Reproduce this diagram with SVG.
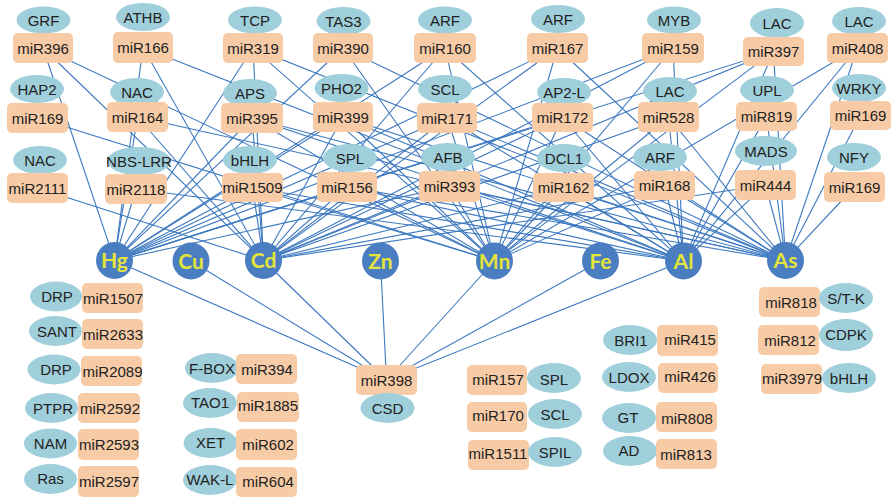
<svg xmlns="http://www.w3.org/2000/svg" width="894" height="498" viewBox="0 0 894 498">
<style>
.p{fill:#9FCFDB}
.m{fill:#F7CBA6}
.t{font-family:"Liberation Sans",Arial,sans-serif;font-size:15px;fill:#222;text-anchor:middle}
.mc{fill:#4A7EC1}
.mt{font-family:Lato,"Open Sans",sans-serif;font-weight:bold;font-size:21px;fill:#E4E43A;text-anchor:middle}
#connectors line{stroke:#3C78C0;stroke-width:1.1}
</style>
<rect width="894" height="498" fill="#fff"/>
<g id="connectors">
<!-- Hg -->
<line x1="43" y1="48" x2="114.5" y2="260.5"/>
<line x1="143" y1="47.5" x2="114.5" y2="260.5"/>
<line x1="137.5" y1="117" x2="114.5" y2="260.5"/>
<line x1="136" y1="189" x2="114.5" y2="260.5"/>
<line x1="253" y1="48" x2="114.5" y2="260.5"/>
<line x1="343" y1="48" x2="114.5" y2="260.5"/>
<line x1="445" y1="48" x2="114.5" y2="260.5"/>
<line x1="557.5" y1="48" x2="114.5" y2="260.5"/>
<line x1="673" y1="48" x2="114.5" y2="260.5"/>
<line x1="773.5" y1="51.5" x2="114.5" y2="260.5"/>
<line x1="252" y1="118" x2="114.5" y2="260.5"/>
<line x1="343" y1="117" x2="114.5" y2="260.5"/>
<line x1="252.5" y1="187.5" x2="114.5" y2="260.5"/>
<line x1="347" y1="187" x2="114.5" y2="260.5"/>
<line x1="447" y1="118" x2="114.5" y2="260.5"/>
<line x1="449.5" y1="186.5" x2="114.5" y2="260.5"/>
<line x1="562.5" y1="117.5" x2="114.5" y2="260.5"/>
<!-- Cd -->
<line x1="43" y1="48" x2="263.5" y2="260.5"/>
<line x1="143" y1="47.5" x2="263.5" y2="260.5"/>
<line x1="137.5" y1="117" x2="263.5" y2="260.5"/>
<line x1="37.5" y1="188" x2="263.5" y2="260.5"/>
<line x1="253" y1="48" x2="263.5" y2="260.5"/>
<line x1="445" y1="48" x2="263.5" y2="260.5"/>
<line x1="557.5" y1="48" x2="263.5" y2="260.5"/>
<line x1="673" y1="48" x2="263.5" y2="260.5"/>
<line x1="773.5" y1="51.5" x2="263.5" y2="260.5"/>
<line x1="252.5" y1="187.5" x2="263.5" y2="260.5"/>
<line x1="252" y1="118" x2="263.5" y2="260.5"/>
<line x1="343" y1="117" x2="263.5" y2="260.5"/>
<line x1="347" y1="187" x2="263.5" y2="260.5"/>
<line x1="447" y1="118" x2="263.5" y2="260.5"/>
<line x1="449.5" y1="186.5" x2="263.5" y2="260.5"/>
<line x1="562.5" y1="117.5" x2="263.5" y2="260.5"/>
<line x1="563.5" y1="187.5" x2="263.5" y2="260.5"/>
<line x1="668.5" y1="117" x2="263.5" y2="260.5"/>
<line x1="664.5" y1="185.5" x2="263.5" y2="260.5"/>
<line x1="765.5" y1="185" x2="263.5" y2="260.5"/>
<!-- Mn -->
<line x1="43" y1="48" x2="494.5" y2="261"/>
<line x1="37.5" y1="118" x2="494.5" y2="261"/>
<line x1="253" y1="48" x2="494.5" y2="261"/>
<line x1="343" y1="48" x2="494.5" y2="261"/>
<line x1="445" y1="48" x2="494.5" y2="261"/>
<line x1="557.5" y1="48" x2="494.5" y2="261"/>
<line x1="673" y1="48" x2="494.5" y2="261"/>
<line x1="773.5" y1="51.5" x2="494.5" y2="261"/>
<line x1="857.5" y1="48" x2="494.5" y2="261"/>
<line x1="252" y1="118" x2="494.5" y2="261"/>
<line x1="343" y1="117" x2="494.5" y2="261"/>
<line x1="252.5" y1="187.5" x2="494.5" y2="261"/>
<line x1="347" y1="187" x2="494.5" y2="261"/>
<line x1="447" y1="118" x2="494.5" y2="261"/>
<line x1="449.5" y1="186.5" x2="494.5" y2="261"/>
<line x1="562.5" y1="117.5" x2="494.5" y2="261"/>
<line x1="563.5" y1="187.5" x2="494.5" y2="261"/>
<line x1="668.5" y1="117" x2="494.5" y2="261"/>
<line x1="664.5" y1="185.5" x2="494.5" y2="261"/>
<!-- Al -->
<line x1="143" y1="47.5" x2="683.5" y2="261"/>
<line x1="136" y1="189" x2="683.5" y2="261"/>
<line x1="445" y1="48" x2="683.5" y2="261"/>
<line x1="673" y1="48" x2="683.5" y2="261"/>
<line x1="773.5" y1="51.5" x2="683.5" y2="261"/>
<line x1="857.5" y1="48" x2="683.5" y2="261"/>
<line x1="252" y1="118" x2="683.5" y2="261"/>
<line x1="343" y1="117" x2="683.5" y2="261"/>
<line x1="252.5" y1="187.5" x2="683.5" y2="261"/>
<line x1="347" y1="187" x2="683.5" y2="261"/>
<line x1="447" y1="118" x2="683.5" y2="261"/>
<line x1="449.5" y1="186.5" x2="683.5" y2="261"/>
<line x1="562.5" y1="117.5" x2="683.5" y2="261"/>
<line x1="563.5" y1="187.5" x2="683.5" y2="261"/>
<line x1="668.5" y1="117" x2="683.5" y2="261"/>
<line x1="664.5" y1="185.5" x2="683.5" y2="261"/>
<line x1="766.5" y1="116.5" x2="683.5" y2="261"/>
<line x1="765.5" y1="185" x2="683.5" y2="261"/>
<!-- As -->
<line x1="253" y1="48" x2="785.5" y2="260.5"/>
<line x1="343" y1="48" x2="785.5" y2="260.5"/>
<line x1="557.5" y1="48" x2="785.5" y2="260.5"/>
<line x1="137.5" y1="117" x2="785.5" y2="260.5"/>
<line x1="773.5" y1="51.5" x2="785.5" y2="260.5"/>
<line x1="857.5" y1="48" x2="785.5" y2="260.5"/>
<line x1="860.5" y1="115.5" x2="785.5" y2="260.5"/>
<line x1="854.5" y1="187" x2="785.5" y2="260.5"/>
<line x1="766.5" y1="116.5" x2="785.5" y2="260.5"/>
<line x1="765.5" y1="185" x2="785.5" y2="260.5"/>
<line x1="252" y1="118" x2="785.5" y2="260.5"/>
<line x1="343" y1="117" x2="785.5" y2="260.5"/>
<line x1="447" y1="118" x2="785.5" y2="260.5"/>
<line x1="449.5" y1="186.5" x2="785.5" y2="260.5"/>
<line x1="563.5" y1="187.5" x2="785.5" y2="260.5"/>
<line x1="664.5" y1="185.5" x2="785.5" y2="260.5"/>
<line x1="668.5" y1="117" x2="785.5" y2="260.5"/>
<line x1="562.5" y1="117.5" x2="785.5" y2="260.5"/>
<line x1="347" y1="187" x2="785.5" y2="260.5"/>
<!-- miR398 -->
<line x1="386.5" y1="380" x2="114.5" y2="260.5"/>
<line x1="386.5" y1="380" x2="191" y2="261"/>
<line x1="386.5" y1="380" x2="263.5" y2="260.5"/>
<line x1="386.5" y1="380" x2="380.5" y2="261"/>
<line x1="386.5" y1="380" x2="494.5" y2="261"/>
<line x1="386.5" y1="380" x2="600.5" y2="261"/>
<line x1="386.5" y1="380" x2="683.5" y2="261"/>
</g>

<!-- Row 1 -->
<g id="GRF"><ellipse class="p" cx="43.5" cy="20" rx="27" ry="13.5"/><text class="t" x="43.5" y="25.5">GRF</text></g>
<g id="miR396"><rect class="m" x="13" y="33" width="60" height="30" rx="5"/><text class="t" x="43" y="53.5">miR396</text></g>
<g id="ATHB"><ellipse class="p" cx="143" cy="17" rx="27" ry="14"/><text class="t" x="143" y="22.5">ATHB</text></g>
<g id="miR166"><rect class="m" x="113" y="32" width="60" height="31" rx="5"/><text class="t" x="143" y="53">miR166</text></g>
<g id="TCP"><ellipse class="p" cx="255" cy="20" rx="27" ry="13.5"/><text class="t" x="255" y="25.5">TCP</text></g>
<g id="miR319"><rect class="m" x="223" y="33" width="60" height="30" rx="5"/><text class="t" x="253" y="53.5">miR319</text></g>
<g id="TAS3"><ellipse class="p" cx="343.5" cy="21" rx="27" ry="14"/><text class="t" x="343.5" y="26.5">TAS3</text></g>
<g id="miR390"><rect class="m" x="313" y="33" width="60" height="30" rx="5"/><text class="t" x="343" y="53.5">miR390</text></g>
<g id="ARF-160"><ellipse class="p" cx="445" cy="20" rx="27" ry="13.5"/><text class="t" x="445" y="25.5">ARF</text></g>
<g id="miR160"><rect class="m" x="414" y="33" width="62" height="30" rx="5"/><text class="t" x="445" y="53.5">miR160</text></g>
<g id="ARF-167"><ellipse class="p" cx="558" cy="19" rx="27" ry="14"/><text class="t" x="558" y="24.5">ARF</text></g>
<g id="miR167"><rect class="m" x="527" y="33" width="61" height="30" rx="5"/><text class="t" x="557.5" y="53.5">miR167</text></g>
<g id="MYB"><ellipse class="p" cx="674" cy="20" rx="27" ry="13.5"/><text class="t" x="674" y="25.5">MYB</text></g>
<g id="miR159"><rect class="m" x="642" y="33" width="62" height="30" rx="5"/><text class="t" x="673" y="53.5">miR159</text></g>
<g id="LAC-397"><ellipse class="p" cx="777" cy="23" rx="27" ry="15"/><text class="t" x="777" y="28.5">LAC</text></g>
<g id="miR397"><rect class="m" x="743" y="37" width="61" height="29" rx="5"/><text class="t" x="773.5" y="57">miR397</text></g>
<g id="LAC-408"><ellipse class="p" cx="859" cy="21" rx="27" ry="14"/><text class="t" x="859" y="26.5">LAC</text></g>
<g id="miR408"><rect class="m" x="827" y="33" width="61" height="30" rx="5"/><text class="t" x="857.5" y="53.5">miR408</text></g>

<!-- Row 2 -->
<g id="HAP2"><ellipse class="p" cx="37" cy="89" rx="27" ry="14"/><text class="t" x="37" y="94.5">HAP2</text></g>
<g id="miR169-HAP2"><rect class="m" x="7" y="103" width="61" height="30" rx="5"/><text class="t" x="37.5" y="123.5">miR169</text></g>
<g id="NAC-164"><ellipse class="p" cx="137" cy="92" rx="27" ry="14"/><text class="t" x="137" y="97.5">NAC</text></g>
<g id="miR164"><rect class="m" x="107" y="102" width="61" height="30" rx="5"/><text class="t" x="137.5" y="122.5">miR164</text></g>
<g id="APS"><ellipse class="p" cx="250" cy="93" rx="27" ry="14"/><text class="t" x="250" y="98.5">APS</text></g>
<g id="miR395"><rect class="m" x="221" y="103" width="62" height="30" rx="5"/><text class="t" x="252" y="123.5">miR395</text></g>
<g id="PHO2"><ellipse class="p" cx="341.5" cy="88" rx="27" ry="14"/><text class="t" x="341.5" y="93.5">PHO2</text></g>
<g id="miR399"><rect class="m" x="313" y="102" width="60" height="30" rx="5"/><text class="t" x="343" y="122.5">miR399</text></g>
<g id="SCL-171"><ellipse class="p" cx="445" cy="89" rx="27" ry="14"/><text class="t" x="445" y="94.5">SCL</text></g>
<g id="miR171"><rect class="m" x="417" y="103" width="60" height="30" rx="5"/><text class="t" x="447" y="123.5">miR171</text></g>
<g id="AP2-L"><ellipse class="p" cx="564" cy="92" rx="27" ry="14"/><text class="t" x="564" y="97.5">AP2-L</text></g>
<g id="miR172"><rect class="m" x="532" y="103" width="61" height="29" rx="5"/><text class="t" x="562.5" y="123">miR172</text></g>
<g id="LAC-528"><ellipse class="p" cx="670" cy="91" rx="27" ry="14"/><text class="t" x="670" y="96.5">LAC</text></g>
<g id="miR528"><rect class="m" x="638" y="102" width="61" height="30" rx="5"/><text class="t" x="668.5" y="122.5">miR528</text></g>
<g id="UPL"><ellipse class="p" cx="767" cy="90" rx="27" ry="14"/><text class="t" x="767" y="95.5">UPL</text></g>
<g id="miR819"><rect class="m" x="736" y="102" width="61" height="29" rx="5"/><text class="t" x="766.5" y="122">miR819</text></g>
<g id="WRKY"><ellipse class="p" cx="859" cy="88" rx="27" ry="14"/><text class="t" x="859" y="93.5">WRKY</text></g>
<g id="miR169-WRKY"><rect class="m" x="830" y="101" width="61" height="29" rx="5"/><text class="t" x="860.5" y="121">miR169</text></g>

<!-- Row 3 -->
<g id="NAC-2111"><ellipse class="p" cx="40" cy="160" rx="27" ry="14"/><text class="t" x="40" y="165.5">NAC</text></g>
<g id="miR2111"><rect class="m" x="7" y="173" width="61" height="30" rx="5"/><text class="t" x="37.5" y="193.5">miR2111</text></g>
<g id="NBS-LRR"><ellipse class="p" cx="139" cy="161" rx="32" ry="14"/><text class="t" x="139" y="166.5">NBS-LRR</text></g>
<g id="miR2118"><rect class="m" x="105" y="174" width="62" height="30" rx="5"/><text class="t" x="136" y="194.5">miR2118</text></g>
<g id="bHLH-1509"><ellipse class="p" cx="250" cy="160" rx="27" ry="14"/><text class="t" x="250" y="165.5">bHLH</text></g>
<g id="miR1509"><rect class="m" x="222" y="173" width="61" height="29" rx="5"/><text class="t" x="252.5" y="193">miR1509</text></g>
<g id="SPL-156"><ellipse class="p" cx="350" cy="158" rx="27" ry="14"/><text class="t" x="350" y="163.5">SPL</text></g>
<g id="miR156"><rect class="m" x="317" y="172" width="60" height="30" rx="5"/><text class="t" x="347" y="192.5">miR156</text></g>
<g id="AFB"><ellipse class="p" cx="448" cy="157" rx="27" ry="14"/><text class="t" x="448" y="162.5">AFB</text></g>
<g id="miR393"><rect class="m" x="419" y="171" width="61" height="31" rx="5"/><text class="t" x="449.5" y="191.5">miR393</text></g>
<g id="DCL1"><ellipse class="p" cx="564" cy="158" rx="27" ry="14"/><text class="t" x="564" y="163.5">DCL1</text></g>
<g id="miR162"><rect class="m" x="533" y="173" width="61" height="29" rx="5"/><text class="t" x="563.5" y="193">miR162</text></g>
<g id="ARF-168"><ellipse class="p" cx="660" cy="157" rx="27" ry="14"/><text class="t" x="660" y="162.5">ARF</text></g>
<g id="miR168"><rect class="m" x="634" y="171" width="61" height="29" rx="5"/><text class="t" x="664.5" y="191">miR168</text></g>
<g id="MADS"><ellipse class="p" cx="766" cy="151" rx="31" ry="15"/><text class="t" x="766" y="156.5">MADS</text></g>
<g id="miR444"><rect class="m" x="735" y="170" width="61" height="30" rx="5"/><text class="t" x="765.5" y="190.5">miR444</text></g>
<g id="NFY"><ellipse class="p" cx="854" cy="157" rx="27" ry="14"/><text class="t" x="854" y="162.5">NFY</text></g>
<g id="miR169-NFY"><rect class="m" x="824" y="172" width="61" height="30" rx="5"/><text class="t" x="854.5" y="192.5">miR169</text></g>

<!-- Metals -->
<g id="Hg"><circle class="mc" cx="114.5" cy="260.5" r="18.5"/><text class="mt" x="114.5" y="268">Hg</text></g>
<g id="Cu"><circle class="mc" cx="191" cy="261" r="18.5"/><text class="mt" x="191" y="268.5">Cu</text></g>
<g id="Cd"><circle class="mc" cx="263.5" cy="260.5" r="18.5"/><text class="mt" x="263.5" y="268">Cd</text></g>
<g id="Zn"><circle class="mc" cx="380.5" cy="261" r="18.5"/><text class="mt" x="380.5" y="268.5">Zn</text></g>
<g id="Mn"><circle class="mc" cx="494.5" cy="261" r="18.5"/><text class="mt" x="494.5" y="268.5">Mn</text></g>
<g id="Fe"><circle class="mc" cx="600.5" cy="261" r="18.5"/><text class="mt" x="600.5" y="268.5">Fe</text></g>
<g id="Al"><circle class="mc" cx="683.5" cy="261" r="18.5"/><text class="mt" x="683.5" y="268.5">Al</text></g>
<g id="As"><circle class="mc" cx="785.5" cy="260.5" r="18.5"/><text class="mt" x="785.5" y="268">As</text></g>

<!-- Bottom left -->
<g id="DRP-1507"><ellipse class="p" cx="56" cy="296.5" rx="26" ry="15"/><text class="t" x="57" y="302">DRP</text></g>
<g id="miR1507"><rect class="m" x="82" y="283" width="61" height="30" rx="5"/><text class="t" x="113" y="303.5">miR1507</text></g>
<g id="SANT"><ellipse class="p" cx="55.5" cy="331" rx="26.5" ry="15"/><text class="t" x="57" y="336.5">SANT</text></g>
<g id="miR2633"><rect class="m" x="82" y="319" width="61" height="30" rx="5"/><text class="t" x="113" y="340">miR2633</text></g>
<g id="DRP-2089"><ellipse class="p" cx="54" cy="369.5" rx="26.5" ry="15"/><text class="t" x="56" y="375">DRP</text></g>
<g id="miR2089"><rect class="m" x="81" y="356" width="61" height="30" rx="5"/><text class="t" x="112.5" y="377">miR2089</text></g>
<g id="PTPR"><ellipse class="p" cx="51.5" cy="408" rx="26.5" ry="15"/><text class="t" x="53" y="413.5">PTPR</text></g>
<g id="miR2592"><rect class="m" x="78" y="393" width="62" height="30" rx="5"/><text class="t" x="110" y="414">miR2592</text></g>
<g id="NAM"><ellipse class="p" cx="50.5" cy="443.5" rx="26.5" ry="15"/><text class="t" x="50.5" y="449">NAM</text></g>
<g id="miR2593"><rect class="m" x="78" y="429" width="61" height="31" rx="5"/><text class="t" x="109" y="450">miR2593</text></g>
<g id="Ras"><ellipse class="p" cx="50.5" cy="479" rx="26.5" ry="15"/><text class="t" x="50.5" y="484">Ras</text></g>
<g id="miR2597"><rect class="m" x="78" y="466" width="61" height="31" rx="5"/><text class="t" x="109" y="486.5">miR2597</text></g>

<!-- Bottom middle -->
<g id="F-BOX"><ellipse class="p" cx="212" cy="368" rx="27" ry="15"/><text class="t" x="212" y="373.5">F-BOX</text></g>
<g id="miR394"><rect class="m" x="236" y="354" width="61" height="30" rx="5"/><text class="t" x="267" y="374.5">miR394</text></g>
<g id="TAO1"><ellipse class="p" cx="210" cy="403" rx="27" ry="15"/><text class="t" x="210" y="407.5">TAO1</text></g>
<g id="miR1885"><rect class="m" x="237" y="392" width="62" height="30" rx="5"/><text class="t" x="268" y="411">miR1885</text></g>
<g id="XET"><ellipse class="p" cx="210.5" cy="443" rx="27" ry="15"/><text class="t" x="210.5" y="447.5">XET</text></g>
<g id="miR602"><rect class="m" x="236" y="429" width="61" height="31" rx="5"/><text class="t" x="268" y="450">miR602</text></g>
<g id="WAK-L"><ellipse class="p" cx="210" cy="480" rx="27" ry="15"/><text class="t" x="210" y="485">WAK-L</text></g>
<g id="miR604"><rect class="m" x="236" y="467" width="61" height="30" rx="5"/><text class="t" x="268" y="487">miR604</text></g>

<g id="miR398"><rect class="m" x="356" y="365" width="61" height="30" rx="5"/><text class="t" x="386.5" y="385.5">miR398</text></g>
<g id="CSD"><ellipse class="p" cx="387.5" cy="408" rx="27" ry="15"/><text class="t" x="387.5" y="413.5">CSD</text></g>

<g id="miR157"><rect class="m" x="467" y="365" width="60" height="30" rx="5"/><text class="t" x="498" y="385">miR157</text></g>
<g id="SPL-157"><ellipse class="p" cx="554" cy="378" rx="27" ry="15"/><text class="t" x="554" y="384.5">SPL</text></g>
<g id="miR170"><rect class="m" x="467" y="402" width="60" height="30" rx="5"/><text class="t" x="498" y="420.5">miR170</text></g>
<g id="SCL-170"><ellipse class="p" cx="555" cy="414" rx="27" ry="15"/><text class="t" x="555" y="419.5">SCL</text></g>
<g id="miR1511"><rect class="m" x="468" y="440" width="61" height="30" rx="5"/><text class="t" x="498" y="459">miR1511</text></g>
<g id="SPIL"><ellipse class="p" cx="555" cy="452" rx="27" ry="15"/><text class="t" x="555" y="457.5">SPIL</text></g>

<g id="BRI1"><ellipse class="p" cx="630" cy="340" rx="27" ry="15"/><text class="t" x="631" y="345.5">BRI1</text></g>
<g id="miR415"><rect class="m" x="657" y="325" width="61" height="31" rx="5"/><text class="t" x="690" y="345">miR415</text></g>
<g id="LDOX"><ellipse class="p" cx="629" cy="377" rx="27" ry="15"/><text class="t" x="629" y="382.5">LDOX</text></g>
<g id="miR426"><rect class="m" x="658" y="363" width="60" height="30" rx="5"/><text class="t" x="690" y="382">miR426</text></g>
<g id="GT"><ellipse class="p" cx="629" cy="418" rx="27" ry="15"/><text class="t" x="628" y="423">GT</text></g>
<g id="miR808"><rect class="m" x="656" y="402" width="61" height="30" rx="5"/><text class="t" x="687" y="423.5">miR808</text></g>
<g id="AD"><ellipse class="p" cx="630" cy="451" rx="27" ry="15"/><text class="t" x="629" y="456">AD</text></g>
<g id="miR813"><rect class="m" x="656" y="439" width="61" height="30" rx="5"/><text class="t" x="686" y="460">miR813</text></g>

<g id="miR818"><rect class="m" x="759" y="287" width="61" height="30" rx="5"/><text class="t" x="791" y="308">miR818</text></g>
<g id="S-T-K"><ellipse class="p" cx="846" cy="298" rx="27" ry="15"/><text class="t" x="846" y="304">S/T-K</text></g>
<g id="miR812"><rect class="m" x="758" y="325" width="61" height="30" rx="5"/><text class="t" x="790" y="346">miR812</text></g>
<g id="CDPK"><ellipse class="p" cx="846" cy="335" rx="27" ry="16"/><text class="t" x="846" y="340">CDPK</text></g>
<g id="miR3979"><rect class="m" x="761" y="364" width="61" height="30" rx="5"/><text class="t" x="792" y="384">miR3979</text></g>
<g id="bHLH-3979"><ellipse class="p" cx="849" cy="378" rx="27" ry="15"/><text class="t" x="849" y="384">bHLH</text></g>
</svg>
